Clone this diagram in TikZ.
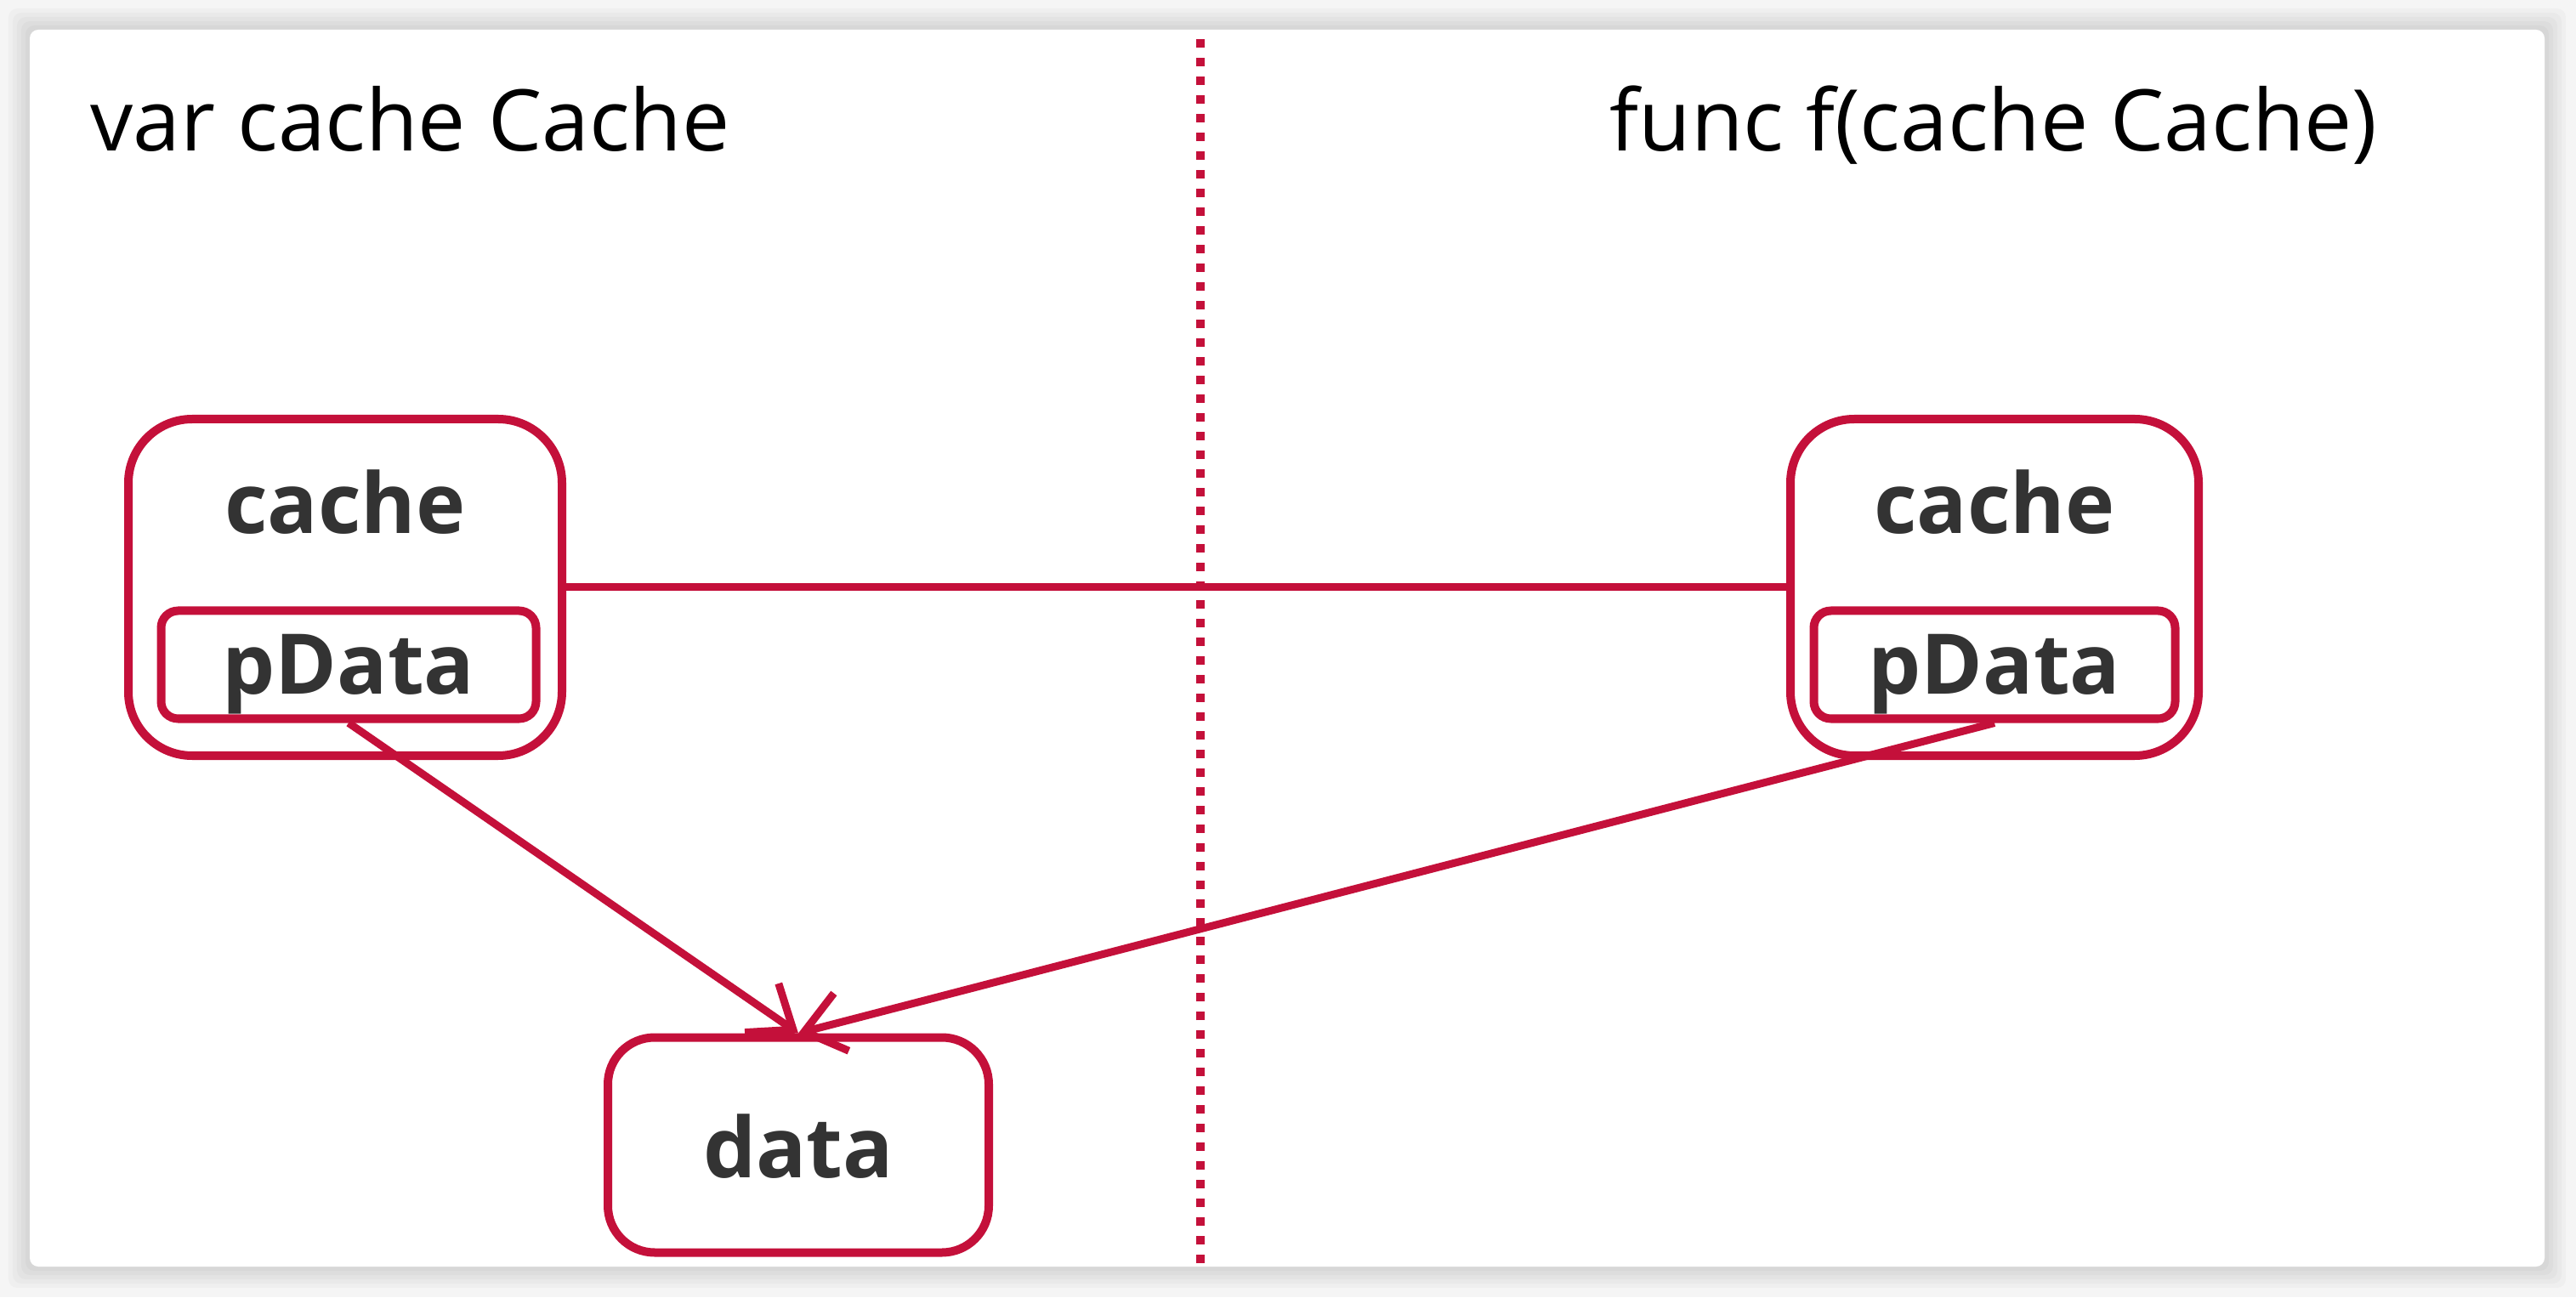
\documentclass[tikz,border=0pt]{standalone}
\usepackage{fontspec}
\setmainfont{Open Sans}
\usetikzlibrary{arrows.meta}
\definecolor{ptrred}{RGB}{196,16,58}
\definecolor{labelgray}{RGB}{51,51,51}

\begin{document}
\begin{tikzpicture}[
  varbox/.style={draw=ptrred, line width=0.1cm, rounded corners=0.75cm, fill=white, inner sep=0pt},
  fieldbox/.style={draw=ptrred, line width=0.1cm, rounded corners=0.2cm, fill=white, inner sep=0pt},
  boxlabel/.style={inner sep=0pt, anchor=base, text=labelgray, font=\fontsize{28}{34}\selectfont\bfseries},
  heading/.style={inner sep=0pt, anchor=base west, font=\fontsize{28.5}{34}\selectfont},
  ptr/.style={draw=ptrred, line width=0.09cm, -{Straight Barb[length=0.45cm, width=0.7cm]}},
  divider/.style={draw=ptrred, line width=0.1cm, dash pattern=on 0.1cm off 0.12cm}
]
  \useasboundingbox (0,0) rectangle (30.30,15.26);
  \fill[black!4] (0,0) rectangle (30.30,15.26);
  \foreach \s in {0.05,0.10,...,0.30}
    \fill[black, opacity=0.025, rounded corners=0.1cm] (0.35-\s,0.36-\s) rectangle (29.93+\s,14.91+\s);
  \fill[white, rounded corners=0.1cm] (0.35,0.36) rectangle (29.93,14.91);

  \draw[divider] (14.12,0.40) -- (14.12,14.91);

  \node[heading] (varline) at (1.06,13.48) {var cache Cache};
  \node[heading] (funcline) at (18.93,13.48) {func f(cache Cache)};

  \node[varbox, minimum width=5.10cm, minimum height=3.96cm] (cacheL) at (4.06,8.35) {};
  \node[fieldbox, minimum width=4.41cm, minimum height=1.27cm] (pDataL) at (4.10,7.44) {};
  \node[boxlabel] (cacheLtext) at (4.06,8.98) {cache};
  \node[boxlabel] (pDataLtext) at (4.10,7.09) {pData};

  \node[varbox, minimum width=4.80cm, minimum height=3.96cm] (cacheR) at (23.46,8.35) {};
  \node[fieldbox, minimum width=4.25cm, minimum height=1.27cm] (pDataR) at (23.46,7.44) {};
  \node[boxlabel] (cacheRtext) at (23.46,8.98) {cache};
  \node[boxlabel] (pDataRtext) at (23.46,7.09) {pData};

  \node[varbox, rounded corners=0.55cm, minimum width=4.48cm, minimum height=2.53cm] (data) at (9.39,1.79) {};
  \node[boxlabel] (datatext) at (9.39,1.41) {data};

  \draw[draw=ptrred, line width=0.09cm] (cacheL.east) -- (cacheR.west);
  \draw[ptr] (pDataL.south) -- (data.north);
  \draw[ptr] (pDataR.south) -- (data.north);

\end{tikzpicture}
\end{document}
